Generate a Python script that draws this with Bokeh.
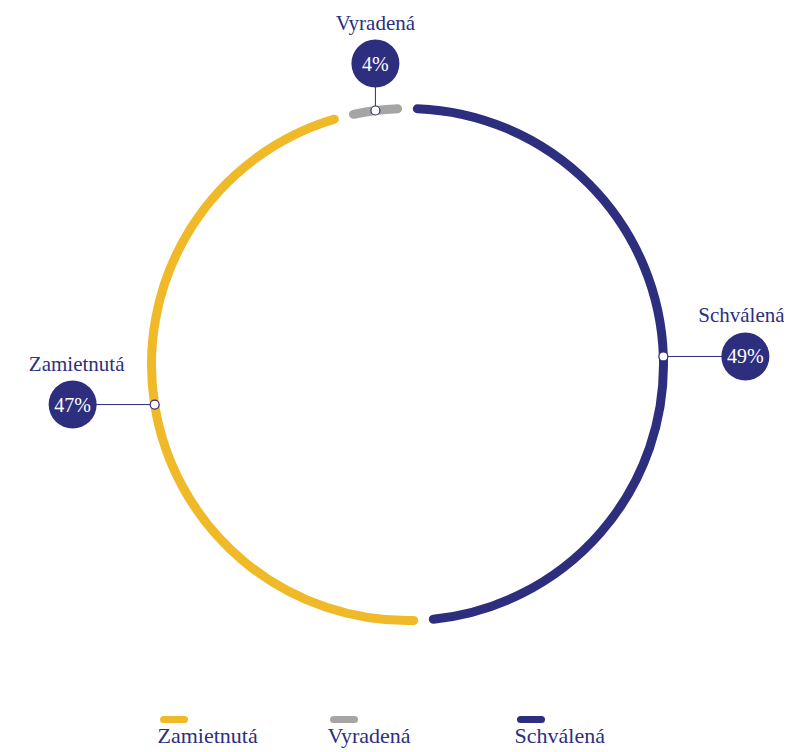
import numpy as np
from bokeh.plotting import figure
from bokeh.models import Range1d
from bokeh.core.properties import value
from bokeh.embed import file_html
from bokeh.resources import INLINE

categories = ["Schválená", "Zamietnutá", "Vyradená"]
values = [49, 47, 4]
colors = ["#2d2f7e", "#f0b928", "#a5a5a5"]
legend_order = ["Zamietnutá", "Vyradená", "Schválená"]

NAVY = "#2d2f7e"
FONT = value("Liberation Serif")

W, H = 784, 750
p = figure(width=W, height=H, output_backend="svg", toolbar_location=None,
           x_range=Range1d(0, W), y_range=Range1d(752 - H, 752),
           min_border=0, outline_line_color=None)
p.axis.visible = False
p.grid.visible = False
p.background_fill_color = "white"
p.border_fill_color = "white"

cx, cy, R = 407, 752 - 364, 256
pad = 2.2  # degrees of gap at each end

total = float(sum(values))
start = 0.0
mids = []
for cat, v, col in zip(categories, values, colors):
    span = 360.0 * v / total
    a0, a1 = start + pad, start + span - pad
    p.arc(x=[cx], y=[cy], radius=R,
          start_angle=np.radians(90 - a0), end_angle=np.radians(90 - a1),
          direction="clock", line_color=col, line_width=9, line_cap="round")
    mids.append(start + span / 2)
    start += span

for cat, v, m in zip(categories, values, mids):
    t = np.radians(m)
    mx, my = cx + R * np.sin(t), cy + R * np.cos(t)
    side = abs(np.sin(t)) > 0.5
    if side:
        bx, by = mx + 82 * np.sign(np.sin(t)), my
    else:
        bx, by = mx, my + 47 * np.sign(np.cos(t))
    p.line(x=[mx, bx], y=[my, by], line_color=NAVY, line_width=1)
    p.scatter(x=[bx], y=[by], size=48, marker="circle", fill_color=NAVY, line_color=None)
    p.scatter(x=[mx], y=[my], size=9, marker="circle", fill_color="white",
              line_color=NAVY, line_width=1.2)
    p.text(x=[bx], y=[by], text=[f"{v}%"], text_font=FONT, text_font_size="20px",
           text_color="white", text_align="center", text_baseline="middle")
    p.text(x=[bx - 4 * np.sign(np.sin(t)) if side else bx], y=[by + 41],
           text=[cat], text_font=FONT, text_font_size="21px",
           text_color=NAVY, text_align="center", text_baseline="middle")

# legend
leg_x = [160, 330, 517]
color_of = dict(zip(categories, colors))
for lx, cat in zip(leg_x, legend_order):
    p.line(x=[lx + 3, lx + 24], y=[752 - 719, 752 - 719], line_color=color_of[cat],
           line_width=7, line_cap="round")
    p.text(x=[lx - 3], y=[752 - 735], text=[cat], text_font=FONT, text_font_size="22px",
           text_color=NAVY, text_align="left", text_baseline="middle")

open("out.html", "w").write(file_html(p, INLINE))
